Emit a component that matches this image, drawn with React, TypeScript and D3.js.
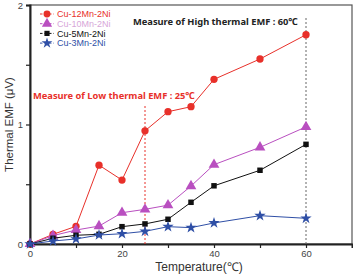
import React, { useEffect, useRef } from 'react';
import * as d3 from 'd3';

const temps = [0, 5, 10, 15, 20, 25, 30, 35, 40, 50, 60];
const cu12Mn = [0, 0.081, 0.148, 0.66, 0.535, 0.947, 1.107, 1.149, 1.378, 1.548, 1.751];
const cu10Mn = [0, 0.07, 0.117, 0.15, 0.262, 0.29, 0.325, 0.485, 0.664, 0.809, 0.98];
const cu5Mn = [0, 0.048, 0.073, 0.081, 0.145, 0.168, 0.207, 0.349, 0.487, 0.617, 0.834];
const cu3Mn = [0, 0.025, 0.042, 0.075, 0.086, 0.106, 0.145, 0.137, 0.176, 0.237, 0.215];

const seriesNames = ['Cu-12Mn-2Ni', 'Cu-10Mn-2Ni', 'Cu-5Mn-2Ni', 'Cu-3Mn-2Ni'];
const xTicks = [0, 20, 40, 60];
const yTicks = [0, 1, 2];

const App: React.FC = () => {
  const svgRef = useRef<SVGSVGElement | null>(null);

  useEffect(() => {
    if (!svgRef.current) return;
    const svg = d3.select(svgRef.current);
    svg.selectAll('*').remove();

    const width = 353;
    const height = 275;
    const margin = { top: 5, right: 1, bottom: 31, left: 30 };

    const x = d3.scaleLinear().domain([0, 70]).range([margin.left, width - margin.right]);
    const y = d3.scaleLinear().domain([0, 2]).range([height - margin.bottom, margin.top]);

    svg.append('rect').attr('width', width).attr('height', height).attr('fill', '#fff');

    // frame: thin top/right, heavy left/bottom
    svg.append('rect')
      .attr('x', x(0)).attr('y', y(2))
      .attr('width', x(70) - x(0)).attr('height', y(0) - y(2))
      .attr('fill', 'none').attr('stroke', '#555').attr('stroke-width', 1.2);

    const xAxis = svg.append('g')
      .attr('transform', `translate(0,${y(0)})`)
      .call(d3.axisBottom(x).tickValues([0, 10, 20, 30, 40, 50, 60]).tickSize(4).tickPadding(2)
        .tickFormat(d => (xTicks.includes(+d) ? String(d) : '')));
    xAxis.select('.domain').attr('stroke', '#222').attr('stroke-width', 2);
    xAxis.selectAll('.tick line').attr('stroke', '#222').attr('stroke-width', 1.2);
    xAxis.selectAll('text').attr('font-family', 'Liberation Sans, Arial, sans-serif')
      .attr('font-size', 9.5).attr('fill', '#444');

    const yAxis = svg.append('g')
      .attr('transform', `translate(${x(0)},0)`)
      .call(d3.axisLeft(y).tickValues([0, 0.5, 1, 1.5, 2]).tickSize(4)
        .tickFormat(d => (yTicks.includes(+d) ? String(d) : '')));
    yAxis.select('.domain').attr('stroke', '#222').attr('stroke-width', 2);
    yAxis.selectAll('.tick line').attr('stroke', '#222').attr('stroke-width', 1.2);
    yAxis.selectAll('text').attr('font-family', 'Liberation Sans, Arial, sans-serif')
      .attr('font-size', 9.5).attr('fill', '#444');

    svg.append('text')
      .attr('transform', `translate(13,${(y(0) + y(2)) / 2}) rotate(-90)`)
      .attr('text-anchor', 'middle')
      .attr('font-family', 'Liberation Sans, Arial, sans-serif')
      .attr('font-size', 11.5).attr('fill', '#333')
      .text('Thermal EMF (μV)');

    svg.append('text')
      .attr('x', 199).attr('y', 271)
      .attr('text-anchor', 'middle')
      .attr('font-family', 'Liberation Sans, Arial, sans-serif')
      .attr('font-size', 12).attr('fill', '#333')
      .text('Temperature(℃)');

    // measurement markers
    svg.append('line')
      .attr('x1', x(60)).attr('x2', x(60)).attr('y1', 18).attr('y2', y(0))
      .attr('stroke', '#666').attr('stroke-width', 1).attr('stroke-dasharray', '2,2');
    svg.append('line')
      .attr('x1', x(25)).attr('x2', x(25)).attr('y1', 106).attr('y2', y(0))
      .attr('stroke', '#e8302a').attr('stroke-width', 1).attr('stroke-dasharray', '2,2');

    svg.append('text')
      .attr('x', 133).attr('y', 25)
      .attr('font-family', 'Noto Sans, sans-serif').attr('font-weight', 'bold')
      .attr('font-size', 9.3).attr('fill', '#222')
      .text('Measure of High thermal EMF : 60℃');
    svg.append('text')
      .attr('x', 33).attr('y', 99)
      .attr('font-family', 'Noto Sans, sans-serif').attr('font-weight', 'bold')
      .attr('font-size', 9.3).attr('fill', '#e8302a')
      .text('Measure of Low thermal EMF : 25℃');

    const series = [
      { name: seriesNames[0], values: cu12Mn, color: '#e8302a', symbol: d3.symbolCircle, size: 42 },
      { name: seriesNames[1], values: cu10Mn, color: '#b94fc0', symbol: d3.symbolTriangle, size: 50 },
      { name: seriesNames[2], values: cu5Mn, color: '#111', symbol: d3.symbolSquare, size: 30 },
      { name: seriesNames[3], values: cu3Mn, color: '#2f4fa6', symbol: d3.symbolStar, size: 40 },
    ];
    const legendText = ['#e8302a', '#d7a6d9', '#111', '#2f4fa6'];

    const line = d3.line<number>().x((_, i) => x(temps[i])).y(d => y(d));

    series.forEach(s => {
      svg.append('path')
        .datum(s.values)
        .attr('d', line)
        .attr('fill', 'none')
        .attr('stroke', s.color)
        .attr('stroke-width', 1);
      svg.selectAll(null)
        .data(s.values)
        .enter()
        .append('path')
        .attr('d', d3.symbol().type(s.symbol).size(s.size)())
        .attr('transform', (d, i) => `translate(${x(temps[i])},${y(d)})`)
        .attr('fill', s.color);
    });

    // legend
    const legend = svg.append('g');
    series.forEach((s, i) => {
      const ly = 14 + i * 9.7;
      legend.append('line')
        .attr('x1', 40).attr('x2', 54).attr('y1', ly).attr('y2', ly)
        .attr('stroke', s.color).attr('stroke-width', 1).attr('stroke-dasharray', '2.5,2');
      legend.append('path')
        .attr('d', d3.symbol().type(s.symbol).size(s.size * 0.9)())
        .attr('transform', `translate(47,${ly})`)
        .attr('fill', s.color);
      legend.append('text')
        .attr('x', 57).attr('y', ly).attr('dy', '0.35em')
        .attr('font-family', 'Liberation Sans, Arial, sans-serif')
        .attr('font-size', 9).attr('fill', legendText[i])
        .text(s.name);
    });
  }, []);

  return <svg ref={svgRef} width={353} height={275} style={{ position: 'absolute', left: 0, top: 0 }} />;
};

export default App;
